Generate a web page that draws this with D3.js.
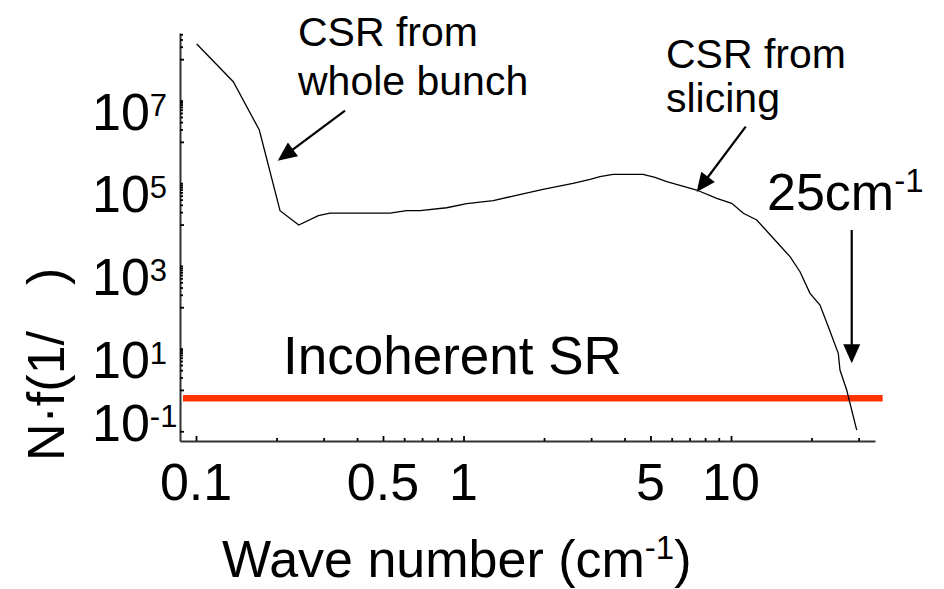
<!DOCTYPE html>
<html>
<head>
<meta charset="utf-8">
<script src="https://cdn.jsdelivr.net/npm/d3@7"></script>
<style>
  html, body { margin: 0; padding: 0; background: #fff; }
  svg { display: block; }
  text { font-family: "Liberation Sans", Arial, Helvetica, sans-serif; fill: #000; }
</style>
</head>
<body>
<svg id="chart" width="944" height="589"></svg>
<script>
// CSR spectrum N·f vs wave number (log-log)
const wavenumber = [0.1006, 0.1378, 0.1724, 0.2061, 0.2421, 0.2866, 0.317, 0.531, 0.613, 0.688,
  0.865, 1.028, 1.292, 1.531, 1.982, 2.567, 2.972, 3.237, 3.622, 4.688,
  5.199, 5.751, 7.443, 8.841, 10.06, 11.12, 12.48, 14.39, 16.62, 18.11,
  19.74, 21.51, 23.11, 25.18, 25.55, 27.07, 29.51];
const intensity = [2.33e8, 2.85e7, 1.94e6, 2.16e4, 9.75e3, 1.64e4, 1.9e4, 1.9e4, 2.16e4, 2.16e4,
  2.55e4, 3.19e4, 3.77e4, 4.9e4, 7.12e4, 9.95e4, 1.24e5, 1.44e5, 1.64e5, 1.64e5,
  1.39e5, 1.09e5, 6.85e4, 4.31e4, 3.27e4, 1.87e4, 1.29e4, 4.65e3, 1.67e3, 723,
  217, 113, 33.8, 7.68, 3.03, 0.994, 0.107];

// Incoherent synchrotron radiation level
const incoherentLevel = 0.63;
const incoherentSpan = [0.0894, 36.9];

// Axis extents and ticks
const xDomain = [0.08711, 34.54];
const yDomain = [0.0581, 4.30e8];
const xMajorTicks = [0.1, 0.5, 1, 5, 10];
const xTickLabels = ["0.1", "0.5", "1", "5", "10"];
const xMinorTicks = [0.2, 0.3, 0.4, 0.6, 0.7, 0.8, 0.9, 2, 3, 4, 6, 7, 8, 9, 20, 30];
const yMajorTicks = [0.1, 1, 1e2, 1e4, 1e6, 1e8];
const yLabelExponents = ["7", "5", "3", "1", "-1"];

// Annotation arrows: [tail, tip] in data space
const arrowWholeBunch = [[0.3606, 5.67e6], [0.202, 3.5e5]];
const arrowSlicing = [[11.35, 2.33e6], [7.44, 6.1e4]];
const arrowCutoff = [[28.27, 7380], [28.27, 4.4]];

const svg = d3.select("#chart");

const x = d3.scaleLog().domain(xDomain).range([180, 875]);
const y = d3.scaleLog().domain(yDomain).range([441, 33]);

// minor y ticks: 2..10 within each even decade
const yMinorTicks = [];
[0, 2, 4, 6, 8].forEach(e => {
  for (let m = 2; m <= 10; m++) {
    const v = m * Math.pow(10, e);
    if (v <= yDomain[1]) yMinorTicks.push(v);
  }
});

const axisColor = "#333";

// x axis
const gx = svg.append("g").attr("transform", "translate(0,441)");
gx.call(d3.axisBottom(x).tickValues(xMinorTicks).tickSize(-3).tickSizeOuter(0).tickFormat(""));
gx.append("g").call(d3.axisBottom(x).tickValues(xMajorTicks).tickSize(-5).tickSizeOuter(0).tickFormat(""))
  .select(".domain").remove();
gx.selectAll(".domain").attr("stroke", axisColor).attr("stroke-width", 2);
gx.selectAll(".tick line").attr("stroke", "#000").attr("stroke-width", 1.8);

// y axis
const gy = svg.append("g").attr("transform", "translate(180,0)");
gy.call(d3.axisLeft(y).tickValues(yMinorTicks).tickSize(-3).tickSizeOuter(0).tickFormat(""));
gy.append("g").call(d3.axisLeft(y).tickValues(yMajorTicks).tickSize(-4).tickSizeOuter(0).tickFormat(""))
  .select(".domain").remove();
gy.selectAll(".domain").attr("stroke", axisColor).attr("stroke-width", 2);
gy.selectAll(".tick line").attr("stroke", "#000").attr("stroke-width", 1.8);

// x tick labels
svg.append("g").selectAll("text").data(xMajorTicks).join("text")
  .attr("x", d => x(d))
  .attr("y", 500)
  .attr("text-anchor", "middle")
  .attr("font-size", 52)
  .text((d, i) => xTickLabels[i]);

// y tick labels (10^n), kept above the x axis line
const yl = svg.append("g").selectAll("text").data(yLabelExponents).join("text")
  .attr("x", 92)
  .attr("y", d => Math.min(y(Math.pow(10, +d)) + 29, 441))
  .attr("font-size", 52);
yl.append("tspan").text("10");
yl.append("tspan").attr("font-size", 31).attr("dy", -14).text(d => d);

// axis titles
const xt = svg.append("text").attr("x", 222).attr("y", 577).attr("font-size", 52);
xt.append("tspan").text("Wave number (cm");
xt.append("tspan").attr("font-size", 33).attr("dy", -18).text("-1");
xt.append("tspan").attr("dy", 18).text(")");

const yt = svg.append("text")
  .attr("transform", "translate(64,461) rotate(-90)")
  .attr("font-size", 52);
yt.append("tspan").text("N\u00B7f(1/");
yt.append("tspan").attr("dx", 46).text(")");

// incoherent SR level
svg.append("line")
  .attr("x1", x(incoherentSpan[0])).attr("x2", x(incoherentSpan[1]))
  .attr("y1", y(incoherentLevel)).attr("y2", y(incoherentLevel))
  .attr("stroke", "#ff3300").attr("stroke-width", 6.5);

// spectrum curve
const line = d3.line().x(d => x(d[0])).y(d => y(d[1]));
svg.append("path")
  .datum(wavenumber.map((k, i) => [k, intensity[i]]))
  .attr("d", line)
  .attr("fill", "none")
  .attr("stroke", "#000")
  .attr("stroke-width", 1.3);

// arrows
function drawArrow(a) {
  const x0 = x(a[0][0]), y0 = y(a[0][1]);
  const x1 = x(a[1][0]), y1 = y(a[1][1]);
  const dx = x1 - x0, dy = y1 - y0;
  const len = Math.hypot(dx, dy);
  const ux = dx / len, uy = dy / len;
  const headLen = 19, headHalf = 8.5;
  const bx = x1 - ux * headLen, by = y1 - uy * headLen;
  svg.append("line")
    .attr("x1", x0).attr("y1", y0).attr("x2", bx + ux * 2).attr("y2", by + uy * 2)
    .attr("stroke", "#000").attr("stroke-width", 2.2);
  svg.append("path")
    .attr("d", `M${x1},${y1}L${bx - uy * headHalf},${by + ux * headHalf}L${bx + uy * headHalf},${by - ux * headHalf}Z`)
    .attr("fill", "#000");
}
drawArrow(arrowWholeBunch);
drawArrow(arrowSlicing);
drawArrow(arrowCutoff);

// annotation labels
svg.append("text").attr("x", 298).attr("y", 46).attr("font-size", 41).text("CSR from");
svg.append("text").attr("x", 298).attr("y", 95).attr("font-size", 41).text("whole bunch");
svg.append("text").attr("x", 666).attr("y", 68).attr("font-size", 41).text("CSR from");
svg.append("text").attr("x", 666).attr("y", 112).attr("font-size", 41).text("slicing");
svg.append("text").attr("x", 283).attr("y", 374).attr("font-size", 53).text("Incoherent SR");

const cut = svg.append("text").attr("x", 767).attr("y", 210).attr("font-size", 52);
cut.append("tspan").text("25cm");
cut.append("tspan").attr("font-size", 33).attr("dy", -18).text("-1");
</script>
</body>
</html>
